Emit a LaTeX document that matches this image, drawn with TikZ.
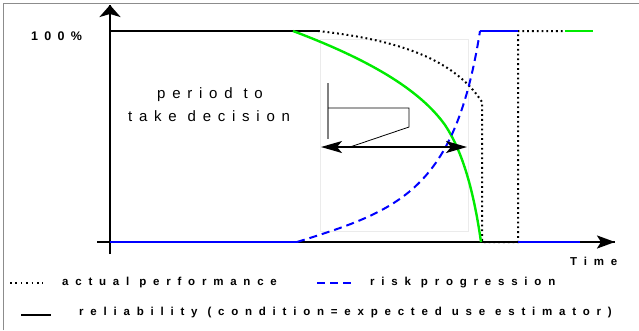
\documentclass[tikz,border=0pt]{standalone}
\usepackage{fontspec}
\setmainfont{Liberation Sans}
\newfontfamily\labelfont[LetterSpace=45]{Liberation Sans}
\newfontfamily\legendfont[LetterSpace=59]{Liberation Sans Bold}
\newfontfamily\pctfont[LetterSpace=50]{Liberation Sans Bold}
\usetikzlibrary{arrows.meta}
\definecolor{riskblue}{RGB}{0,0,255}
\definecolor{relgreen}{RGB}{0,235,0}
\definecolor{framegray}{RGB}{140,140,140}
\definecolor{zonegray}{RGB}{235,235,235}
\tikzset{
  x=1pt, y=-1pt,
  axis/.style={line width=2.4pt, black},
  reliab/.style={line width=2pt, black},
  green line/.style={line width=2.4pt, relgreen},
  blue line/.style={line width=2pt, riskblue},
  blue dash/.style={line width=2pt, riskblue, dash pattern=on 8pt off 5pt},
  perf dots/.style={line width=2pt, black, dash pattern=on 1.8pt off 3pt},
  legend text/.style={font=\legendfont\fontsize{11.5}{13}\selectfont, inner sep=0pt, anchor=base west},
  big text/.style={font=\labelfont\fontsize{15}{18}\selectfont, inner sep=0pt, anchor=base west},
}
\begin{document}
\begin{tikzpicture}
\useasboundingbox (0,0) rectangle (639,330);
\fill[white] (0,0) rectangle (639,330);
% frame
\draw[framegray, line width=1pt] (3,330) -- (3,3) -- (639,3);

% decision window
\draw[zonegray, line width=0.8pt] (320,39) rectangle (468,231);

% key points
\coordinate (O) at (110,242);
\coordinate (Ytop) at (110,5);
\coordinate (Ybot) at (110,254);
\coordinate (Xleft) at (97,242);
\coordinate (Xtip) at (615,242);
\coordinate (Full) at (110,31);
\coordinate (RelEnd) at (318,31);
\coordinate (GreenStart) at (293,31);
\coordinate (GreenMid) at (445,125);
\coordinate (Fail) at (481,242);
\coordinate (PerfKnee) at (482,102);
\coordinate (PerfBase) at (482,242);
\coordinate (Repair) at (518,242);
\coordinate (RepairTop) at (518,31);
\coordinate (PerfEnd) at (563,31);
\coordinate (GreenNew) at (565,31);
\coordinate (GreenNewEnd) at (593,31);
\coordinate (RiskStart) at (297,242);
\coordinate (RiskTop) at (480,31);
\coordinate (RiskLow) at (580,242);

% axes
\draw[axis] (Ybot) -- (Ytop);
\draw[axis] (Xleft) -- (Xtip);
\draw[black, -{Stealth[length=12pt, width=21pt, inset=3pt]}, line width=2.4pt] (110,20) -- (Ytop);
\draw[black, -{Stealth[length=18pt, width=13pt, inset=4pt]}, line width=2.4pt] (590,242) -- (Xtip);

% reliability at 100 %
\draw[reliab] (Full) -- (RelEnd);

% actual performance
\draw[perf dots] (RelEnd) .. controls (400,40) and (455,60) .. (PerfKnee)
  -- (PerfBase) -- (Repair) -- (RepairTop) -- (PerfEnd);

% reliability decay
\draw[green line] (GreenStart) .. controls (370,60) and (420,90) .. (GreenMid)
  .. controls (465,155) and (475,200) .. (Fail);
\draw[green line] (GreenNew) -- (GreenNewEnd);

% risk progression
\draw[blue line] (O) -- (RiskStart);
\draw[blue dash] (RiskStart) .. controls (400,210) and (455,190) .. (RiskTop);
\draw[blue line] (RiskTop) -- (RepairTop);
\draw[blue line] (Repair) -- (RiskLow);

% decision period marker
\coordinate (Bar1) at (328,83);
\coordinate (Bar2) at (328,139);
\coordinate (Flag1) at (328,108);
\coordinate (Flag2) at (409,108);
\coordinate (Flag3) at (409,127);
\coordinate (Flag4) at (350,147);
\coordinate (SpanL) at (321,147);
\coordinate (SpanR) at (467,147);
\draw[gray, line width=1.5pt] (Bar1) -- (Bar2);
\draw[black, line width=0.8pt] (Flag1) -- (Flag2) -- (Flag3) -- (Flag4);
\draw[black, line width=1.5pt, {Stealth[length=21pt, width=12pt, inset=5pt]}-{Stealth[length=21pt, width=12pt, inset=5pt]}] (SpanL) -- (SpanR);

% labels
\node[font=\pctfont\fontsize{12.5}{14}\selectfont, inner sep=0pt, anchor=base west] (pct) at (31,40) {100\%};
\node[big text] (lab1) at (157,98) {period to};
\node[big text] (lab2) at (128,121) {take decision};
\node[legend text] (time) at (570,265) {Time};

% legend
\coordinate (L1a) at (10,283);
\coordinate (L1b) at (43,283);
\coordinate (L2a) at (317,283);
\coordinate (L2b) at (355,283);
\coordinate (L3a) at (21,315);
\coordinate (L3b) at (51,315);
\draw[line width=2pt, black, dash pattern=on 1.6pt off 3.8pt] (L1a) -- (L1b);
\draw[blue line, line width=1.6pt, dash pattern=on 8pt off 5pt] (L2a) -- (L2b);
\draw[line width=2.6pt, black] (L3a) -- (L3b);
\node[legend text] (leg1) at (62,285) {actual performance};
\node[legend text] (leg2) at (370,285) {risk progression};
\node[legend text] (leg3) at (79,315) {reliability (condition=expected use estimator)};
\end{tikzpicture}
\end{document}
